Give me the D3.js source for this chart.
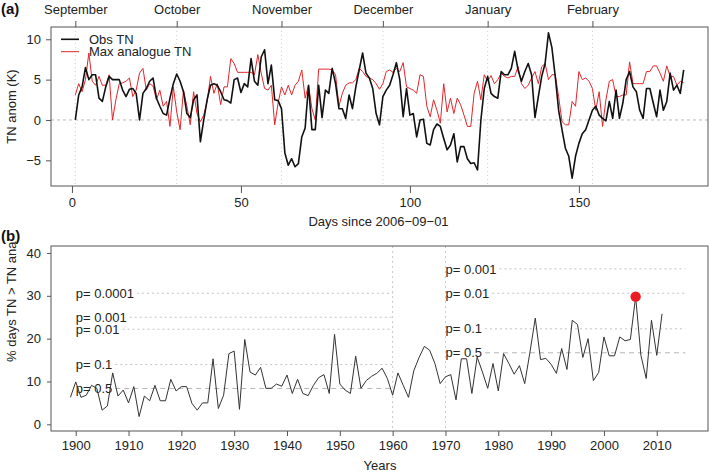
<!DOCTYPE html>
<html><head><meta charset="utf-8">
<script src="https://cdn.jsdelivr.net/npm/d3@7"></script>
<style>
body{margin:0;background:#fff;}
svg{display:block;font-family:"Liberation Sans",Arial,Helvetica,sans-serif;}
</style></head>
<body><svg id="c" width="709" height="474"></svg>
<script>
// ---- Panel (a) data: daily values, day 1 = 2006-09-01 ----
const obsTN = [0,3.1,4.1,6.5,5.0,5.6,5.6,2.7,2.3,4.1,5.4,5.0,5.0,5.0,3.7,2.9,3.8,3.9,3.3,0,
3.3,3.9,4.8,5.2,2.7,1.7,0.8,0.6,2.7,4.5,5.7,4.8,3.5,0.8,0.3,2.5,3.1,-2.7,0,2.5,
4.3,4.5,4.3,3.5,2.5,2.4,2.1,5.0,5.2,3.4,4.5,4.1,7.6,4.8,4.3,7.8,8.7,4.5,6.8,2.5,
2.4,1.4,-4.1,-5.6,-4.8,-5.8,-5.4,-2.1,-1.0,4.3,-1.2,-1.2,4.3,0.3,3.7,3.3,6.4,4.5,1.4,1.4,
0.2,3.1,1.4,4.1,6.2,8.3,5.8,5.2,3.9,0.8,-0.6,2.9,3.7,4.3,5.6,7.1,5.0,0.4,3.9,0.6,
0.8,-2.1,0,0.1,-2.9,-3.1,-1.2,-0.5,-0.8,-2.3,-3.7,-3.1,-1.7,-5.2,-3.3,-3.3,-4.8,-5.4,-5.3,-6.2,
0,3.9,5.4,3.3,2.9,2.7,6.0,5.6,5.6,6.4,8.5,6.2,4.8,6.0,7.0,5.6,0.3,2.9,5.4,7.0,
10.8,9.0,5.4,1.2,-1.2,-3.5,-4.5,-7.2,-4.5,-2.9,-1.7,-1.2,0,1.2,1.7,0.6,0.2,-0.1,2.3,0.2,
3.7,0.2,2.1,5.0,6.0,4.1,3.5,1.2,0.2,3.9,3.9,2.1,0.4,3.7,1.2,2.3,5.8,3.7,4.3,3.3,6.2];
const maxAnalogueTN = [3.1,4.5,3.5,5.0,8.3,4.8,4.3,5.4,4.3,4.3,5.6,0,2.5,4.5,4.6,4.8,5.2,2.9,3.7,5.8,
6.4,3.7,4.5,4.2,2.5,3.7,1.7,2.3,-0.8,4.1,1.0,-1.2,3.7,1.7,-0.6,3.5,0.8,-0.2,0.6,2.3,
5.4,3.3,4.5,1.9,4.1,4.1,7.6,7.0,5.9,5.9,5.9,5.9,5.9,5.6,8.1,5.8,3.9,3.7,4.3,-0.6,
2.1,4.1,3.1,4.3,3.1,4.3,4.8,6.2,2.7,4.3,1.4,0,6.3,6.3,6.3,6.3,6.2,5.6,1.7,3.3,
4.3,4.6,4.6,5.0,6.4,6.0,5.4,5.2,5.0,4.5,3.8,4.5,6.0,6.2,5.9,6.4,6.0,7.1,4.1,3.9,
3.7,3.3,5.6,5.4,1.7,0.4,2.5,1.2,-0.4,4.5,1.0,2.7,0.8,2.7,1.9,0.6,-0.8,-0.8,3.3,4.8,
2.5,5.6,4.8,5.5,4.5,5.0,5.8,5.4,5.2,5.4,5.4,6.6,4.5,3.9,4.3,5.2,6.0,4.5,6.6,7.0,
5.0,5.6,5.6,2.9,-0.2,-0.6,-0.6,2.3,1.7,6.0,5.0,5.2,4.8,3.9,1.2,3.5,-0.8,2.5,4.8,5.0,
2.9,2.9,3.1,3.1,7.2,4.5,4.5,4.5,4.5,6.0,6.0,6.7,6.7,5.8,4.8,6.7,5.4,5.4,4.3,4.8,4.6];
const monthNames = ["September","October","November","December","January","February"];
const monthStartDays = [1,31,62,92,123,154];
const dayTicks = [0,50,100,150];
const anomTicks = [-5,0,5,10];

// ---- Panel (b) data: yearly % of days TN > TN analogue ----
const firstYear = 1899;
const pctDays = [6.3,9.9,6.3,6.8,9.1,8.4,3.3,4.3,12.0,6.6,8.0,5.0,8.8,1.8,6.6,5.5,9.1,5.5,5.5,10.5,
7.8,8.8,8.8,4.9,3.3,5.0,5.0,15.3,3.7,6.8,16.5,17.1,3.5,19.8,12.2,11.5,13.3,8.4,8.4,9.4,
8.9,11.5,7.2,10.5,7.2,6.7,9.1,10.9,11.6,7.2,21.0,9.4,8.0,7.2,15.9,8.4,10.2,11.2,11.9,13.1,
10.7,6.8,12.0,9.1,6.3,12.5,15.6,18.2,17.3,14.2,9.5,11.1,11.6,5.7,15.3,15.3,7.2,15.7,12.2,8.4,
14.2,7.8,16.5,14.2,11.7,13.7,9.5,16.9,24.8,15.1,15.4,14.0,11.9,17.7,12.8,24.3,23.3,15.6,20.0,10.2,
12.1,20.4,16.0,16.0,20.4,19.5,19.8,29.8,16.1,10.7,24.3,16.1,25.8];
const years = pctDays.map((_, i) => firstYear + i);
const highlightYear = 2006;
const yearTicks = [1900,1910,1920,1930,1940,1950,1960,1970,1980,1990,2000,2010];
const pctTicks = [0,10,20,30,40];
const splitYears = [1960,1970];
const pLabelsLeft = ["p= 0.0001","p= 0.001","p= 0.01","p= 0.1","p= 0.5"];
const pValuesLeft = [30.6,25.0,22.2,13.95,8.37];
const pSpanLeft = [1900,1960];
const pLabelsRight = ["p= 0.001","p= 0.01","p= 0.1","p= 0.5"];
const pValuesRight = [36.3,30.6,22.3,16.7];
const pSpanRight = [1970,2015.4];

const svg = d3.select("#c");
svg.append("rect").attr("width",709).attr("height",474).attr("fill","#fff");
const TXT = "#222", AX = "#555";

function styleAxis(g){
  g.select(".domain").remove();
  g.selectAll(".tick line").attr("stroke",AX);
  g.selectAll(".tick text").attr("fill",TXT).style("font-size","13px")
   .style("font-family","'Liberation Sans',Arial,sans-serif");
}

// ================= Panel (a) =================
const A = {l:51,r:708,t:27,b:186};
const xA = d3.scaleLinear().domain([-6.2,188.2]).range([A.l,A.r]);
const yA = d3.scaleLinear().domain([-8.18,11.52]).range([A.b,A.t]);
const days = obsTN.map((_,i)=>i+1);

const gA = svg.append("g");
// month guide lines
gA.selectAll("line.mon").data(monthStartDays).join("line")
  .attr("x1",d=>xA(d)).attr("x2",d=>xA(d)).attr("y1",A.t).attr("y2",A.b)
  .attr("stroke","#cfcfcf").attr("stroke-width",1).attr("stroke-dasharray","1,3");
// zero line
gA.append("line").attr("x1",A.l).attr("x2",A.r).attr("y1",yA(0)).attr("y2",yA(0))
  .attr("stroke","#bbb").attr("stroke-dasharray","3,3");

const lineA = d3.line().x((d,i)=>xA(days[i])).y(d=>yA(d));
gA.append("path").datum(maxAnalogueTN).attr("d",lineA).attr("fill","none")
  .attr("stroke","#e2262b").attr("stroke-width",1);
gA.append("path").datum(obsTN).attr("d",lineA).attr("fill","none")
  .attr("stroke","#111").attr("stroke-width",1.6).attr("stroke-linejoin","round");

gA.append("rect").attr("x",A.l).attr("y",A.t).attr("width",A.r-A.l).attr("height",A.b-A.t)
  .attr("fill","none").attr("stroke",AX);

svg.append("g").attr("transform",`translate(0,${A.b})`)
  .call(d3.axisBottom(xA).tickValues(dayTicks).tickSize(7).tickPadding(5).tickSizeOuter(0)).call(styleAxis);
svg.append("g").attr("transform",`translate(${A.l},0)`)
  .call(d3.axisLeft(yA).tickValues(anomTicks).tickSize(5).tickPadding(5).tickFormat(d=>d<0?"\u2212"+Math.abs(d):d)).call(styleAxis);
svg.append("g").attr("transform",`translate(0,${A.t})`)
  .call(d3.axisTop(xA).tickValues(monthStartDays).tickSize(6).tickPadding(7).tickFormat((d,i)=>monthNames[i])).call(styleAxis);

// legend
const legA = [{name:"Obs TN",c:"#111",w:1.6},{name:"Max analogue TN",c:"#e2262b",w:1}];
legA.forEach((d,i)=>{
  const y = 39.3 + i*12.4;
  svg.append("line").attr("x1",61).attr("x2",79).attr("y1",y).attr("y2",y).attr("stroke",d.c).attr("stroke-width",d.w);
  svg.append("text").attr("x",89).attr("y",y+4.6).attr("fill",TXT).style("font-size","13px").text(d.name);
});

svg.append("text").attr("x",378.5).attr("y",226).attr("text-anchor","middle").attr("fill",TXT)
  .style("font-size","13px").text("Days since 2006\u221209\u221201");
svg.append("text").attr("transform","translate(15.5,106.5) rotate(-90)").attr("text-anchor","middle")
  .attr("fill",TXT).style("font-size","13px").text("TN anom (K)");
svg.append("text").attr("x",1).attr("y",14).attr("fill","#111").style("font-size","15px").style("font-weight","bold").text("(a)");

// ================= Panel (b) =================
const B = {l:51,r:708,t:246,b:431};
const xB = d3.scaleLinear().domain([1895.32,2019.70]).range([B.l,B.r]);
const yB = d3.scaleLinear().domain([-1.56,41.63]).range([B.b,B.t]);
const gB = svg.append("g");

gB.selectAll("line.split").data(splitYears).join("line")
  .attr("x1",d=>xB(d)).attr("x2",d=>xB(d)).attr("y1",B.t).attr("y2",B.b)
  .attr("stroke","#c8c8c8").attr("stroke-dasharray","2,3");

function pGroup(labels, values, span){
  labels.forEach((lab,i)=>{
    const y = yB(values[i]);
    const t = gB.append("text").attr("x",xB(span[0])).attr("y",y).attr("dy","0.36em")
      .attr("fill",TXT).style("font-size","13px").text(lab);
    const w = t.node().getComputedTextLength();
    const isHalf = lab === "p= 0.5";
    gB.insert("line","text").attr("x1",xB(span[0])+w+3).attr("x2",xB(span[1])).attr("y1",y).attr("y2",y)
      .attr("stroke",isHalf?"#b5b5b5":"#c4c4c4").attr("stroke-width",1)
      .attr("stroke-dasharray",isHalf?"5,4":"2,3");
  });
}
pGroup(pLabelsLeft,pValuesLeft,pSpanLeft);
pGroup(pLabelsRight,pValuesRight,pSpanRight);

gB.append("path").datum(pctDays).attr("fill","none").attr("stroke","#333").attr("stroke-width",1)
  .attr("d",d3.line().x((d,i)=>xB(years[i])).y(d=>yB(d)));
const hi = years.indexOf(highlightYear);
gB.append("circle").attr("cx",xB(years[hi])).attr("cy",yB(pctDays[hi])).attr("r",5.2).attr("fill","#ec1c24");

gB.append("rect").attr("x",B.l).attr("y",B.t).attr("width",B.r-B.l).attr("height",B.b-B.t)
  .attr("fill","none").attr("stroke",AX);

svg.append("g").attr("transform",`translate(0,${B.b})`)
  .call(d3.axisBottom(xB).tickValues(yearTicks).tickSize(5).tickPadding(5).tickFormat(d3.format("d"))).call(styleAxis);
svg.append("g").attr("transform",`translate(${B.l},0)`)
  .call(d3.axisLeft(yB).tickValues(pctTicks).tickSize(4).tickPadding(6)).call(styleAxis);

svg.append("text").attr("x",380).attr("y",470).attr("text-anchor","middle").attr("fill",TXT)
  .style("font-size","13px").text("Years");
svg.append("text").attr("transform","translate(15.5,362) rotate(-90)").attr("text-anchor","start")
  .attr("fill",TXT).style("font-size","13px").text("% days TN > TN ana");
svg.append("text").attr("x",1).attr("y",241).attr("fill","#111").style("font-size","15px").style("font-weight","bold").text("(b)");
</script></body></html>
